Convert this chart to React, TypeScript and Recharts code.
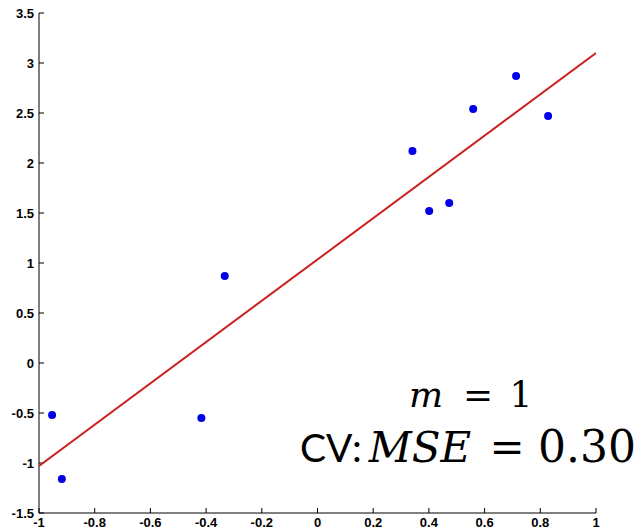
import { ScatterChart, Scatter, XAxis, YAxis } from 'recharts'

// sample points
const pointX = [-0.953, -0.918, -0.417, -0.333, 0.341, 0.401, 0.473, 0.559, 0.713, 0.828]
const pointY = [-0.52, -1.16, -0.55, 0.87, 2.12, 1.52, 1.6, 2.54, 2.87, 2.47]

// fitted line (m = 1)
const fitX = [-1, 1]
const fitY = [-1.03, 3.1]

const xTicks = [-1, -0.8, -0.6, -0.4, -0.2, 0, 0.2, 0.4, 0.6, 0.8, 1]
const yTicks = [-1.5, -1, -0.5, 0, 0.5, 1, 1.5, 2, 2.5, 3, 3.5]

const points = pointX.map((x, i) => ({ x, y: pointY[i] }))
const fit = fitX.map((x, i) => ({ x, y: fitY[i] }))

const tickFont = '"Liberation Sans", Arial, sans-serif'
const serif = '"DejaVu Serif", serif'

const XTick = (props: any) => {
  const { x, y, payload } = props
  return (
    <text x={x} y={y} dy="0.75em" textAnchor="middle" fontSize={13} fontWeight="bold" fontFamily={tickFont} fill="#000">
      {payload.value}
    </text>
  )
}

const YTick = (props: any) => {
  const { x, y, payload } = props
  return (
    <text x={x} y={y} dy="0.36em" textAnchor="end" fontSize={13} fontWeight="bold" fontFamily={tickFont} fill="#000">
      {payload.value}
    </text>
  )
}

const Dot = (props: any) => {
  const { cx, cy } = props
  if (cx == null || cy == null) return null
  return <circle cx={cx} cy={cy} r={4} fill="#0000e6" />
}

export default function App() {
  return (
    <div style={{ position: 'absolute', left: 0, top: 0, width: 641, height: 531, background: '#fff' }}>
      <ScatterChart width={641} height={531} margin={{ top: 13, right: 45, bottom: 0, left: 0 }}>
        <XAxis
          type="number"
          dataKey="x"
          domain={[-1, 1]}
          ticks={xTicks}
          height={18}
          tick={<XTick />}
          tickSize={-5}
          tickMargin={9}
          stroke="#000"
          allowDataOverflow
        />
        <YAxis
          type="number"
          dataKey="y"
          domain={[-1.5, 3.5]}
          ticks={yTicks}
          width={39}
          tick={<YTick />}
          tickSize={-5}
          tickMargin={10}
          stroke="#000"
          allowDataOverflow
        />
        <Scatter
          data={fit}
          line={{ stroke: '#cc2020', strokeWidth: 2 }}
          shape={() => null}
          isAnimationActive={false}
        />
        <Scatter data={points} shape={<Dot />} isAnimationActive={false} />
      </ScatterChart>
      <svg
        width={641}
        height={531}
        style={{ position: 'absolute', left: 0, top: 0, pointerEvents: 'none' }}
      >
        <g fontFamily={serif} fill="#000">
          <text x={426} y={407} textAnchor="middle" fontSize={36} fontStyle="italic">m</text>
          <text x={478} y={407} textAnchor="middle" fontSize={36}>=</text>
          <text x={521} y={407} textAnchor="middle" fontSize={36}>1</text>
          <text x={300} y={462} fontSize={39} fontFamily="Lato, sans-serif">CV:</text>
          <text x={420} y={462} textAnchor="middle" fontSize={42} fontStyle="italic">MSE</text>
          <text x={507} y={462} textAnchor="middle" fontSize={42}>=</text>
          <text x={587} y={462} textAnchor="middle" fontSize={44}>0.30</text>
        </g>
      </svg>
    </div>
  )
}
